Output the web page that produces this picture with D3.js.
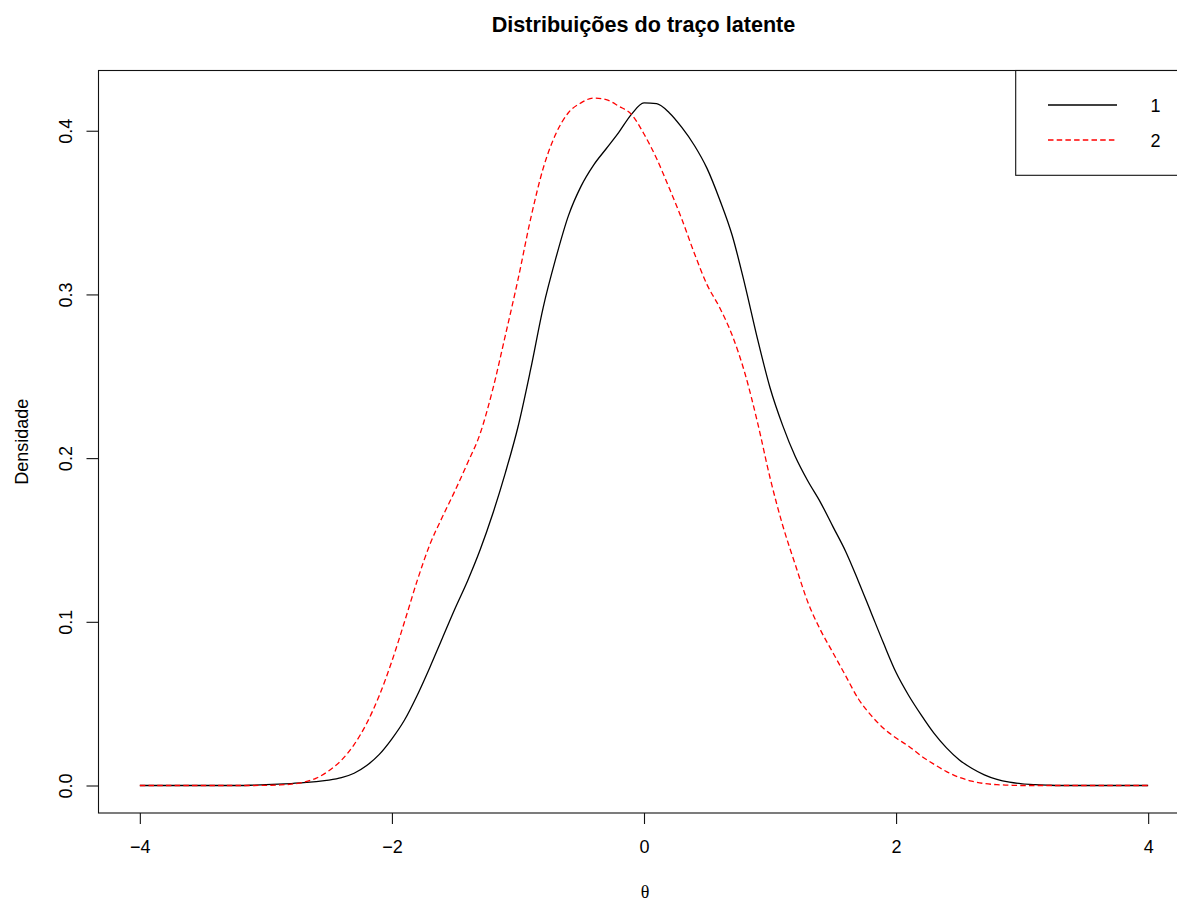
<!DOCTYPE html>
<html>
<head>
<meta charset="utf-8">
<script src="https://cdn.jsdelivr.net/npm/d3@7"></script>
<style>
  html, body { margin: 0; padding: 0; background: #fff; }
  svg { display: block; }
  text { font-family: "Liberation Sans", Arial, sans-serif; fill: #000; }
</style>
</head>
<body>
<svg id="chart" width="1177" height="901"></svg>
<script>
// ---- data ----
const theta = d3.range(-40, 41).map(i => +(i / 10).toFixed(1));
const dens1 = [
  0, 0, 0, 0, 0, 0, 0, 0, 0, 0.0002,            // -4.0 .. -3.1
  0.0005, 0.0008, 0.0012, 0.0017, 0.0024, 0.0033, 0.0048, 0.0075, 0.0122, 0.019, // -3.0 .. -2.1
  0.0285, 0.040, 0.055, 0.072, 0.090, 0.108, 0.125, 0.144, 0.166, 0.191,         // -2.0 .. -1.1
  0.219, 0.254, 0.292, 0.322, 0.348, 0.366, 0.379, 0.389, 0.399, 0.410,          // -1.0 .. -0.1
  0.417,                                                                          // 0.0
  0.4165, 0.411, 0.402, 0.391, 0.377, 0.358, 0.336, 0.306, 0.273, 0.243,         // 0.1 .. 1.0
  0.220, 0.201, 0.186, 0.173, 0.158, 0.143, 0.125, 0.106, 0.087, 0.069,          // 1.1 .. 2.0
  0.055, 0.043, 0.032, 0.023, 0.0158, 0.0105, 0.0065, 0.0037, 0.002, 0.001,      // 2.1 .. 3.0
  0.0005, 0.0002, 0, 0, 0, 0, 0, 0, 0, 0                                         // 3.1 .. 4.0
];
const dens2 = [
  0, 0, 0, 0, 0, 0, 0, 0, 0, 0,                                                  // -4.0 .. -3.1
  0.0001, 0.0003, 0.0008, 0.002, 0.0045, 0.009, 0.0155, 0.025, 0.038, 0.055,     // -3.0 .. -2.1
  0.076, 0.100, 0.125, 0.147, 0.164, 0.180, 0.197, 0.215, 0.242, 0.275,          // -2.0 .. -1.1
  0.309, 0.346, 0.377, 0.398, 0.411, 0.417, 0.420, 0.419, 0.415, 0.410,          // -1.0 .. -0.1
  0.398,                                                                          // 0.0
  0.383, 0.365, 0.346, 0.325, 0.306, 0.292, 0.275, 0.252, 0.222, 0.188,          // 0.1 .. 1.0
  0.159, 0.135, 0.112, 0.095, 0.081, 0.067, 0.053, 0.043, 0.035, 0.029,          // 1.1 .. 2.0
  0.024, 0.018, 0.013, 0.0085, 0.005, 0.0027, 0.0012, 0.0005, 0.0002, 0,         // 2.1 .. 3.0
  0, 0, 0, 0, 0, 0, 0, 0, 0, 0                                                   // 3.1 .. 4.0
];
const xTicks = [-4, -2, 0, 2, 4];
const yTicks = [0, 0.1, 0.2, 0.3, 0.4];
const seriesNames = ["1", "2"];
const seriesColors = ["#000000", "#ff0000"];
const titleText = "Distribuições do traço latente";
const xLabel = "θ";
const yLabel = "Densidade";

// ---- layout ----
const svg = d3.select("#chart");
const L = 98.5, T = 70.5, B = 813, R = 1188.5;
const x = d3.scaleLinear().domain([-4.32, 4.32]).range([L + 1, R]);
const y = d3.scaleLinear().domain([-0.0168, 0.4368]).range([B, T]);

// title
svg.append("text").attr("x", 643.5).attr("y", 31.5)
  .attr("text-anchor", "middle").style("font-size", "21.6px").style("font-weight", "bold")
  .text(titleText);

// curves
const series = [dens1, dens2];
const line = d3.line().x(d => x(d[0])).y(d => y(d[1])).curve(d3.curveMonotoneX);
series.forEach((vals, i) => {
  const pts = theta.map((t, j) => [t, vals[j]]);
  svg.append("path").datum(pts)
    .attr("d", line)
    .attr("fill", "none")
    .attr("stroke", seriesColors[i])
    .attr("stroke-width", 1.3)
    .attr("stroke-dasharray", i === 1 ? "5.5,3.2" : null);
});

// box
svg.append("rect").attr("x", L).attr("y", T).attr("width", R - L).attr("height", B - T)
  .attr("fill", "none").attr("stroke", "#111").attr("stroke-width", 1.1);

// x axis
const xAxis = d3.axisBottom(x).tickValues(xTicks).tickSize(11).tickPadding(5)
  .tickFormat(d => (d < 0 ? "\u2212" + Math.abs(d) : String(d)));
const gx = svg.append("g").attr("transform", `translate(0,${B})`).call(xAxis);
gx.select(".domain").remove();
gx.selectAll("line").attr("stroke", "#111").attr("stroke-width", 1.1);
gx.selectAll("text").attr("dy", null).attr("y", 40.3)
  .style("font-size", "18px").style("font-family", "Liberation Sans, Arial, sans-serif").attr("fill", "#000");

// y axis
const yAxis = d3.axisLeft(y).tickValues(yTicks).tickSize(12).tickFormat(d3.format(".1f"));
const gy = svg.append("g").attr("transform", `translate(${L},0)`).call(yAxis);
gy.select(".domain").remove();
gy.selectAll("line").attr("stroke", "#111").attr("stroke-width", 1.1);
gy.selectAll("text")
  .attr("x", null).attr("dy", null).attr("y", null)
  .attr("text-anchor", "middle")
  .attr("transform", `translate(${72 - L},0) rotate(-90)`)
  .style("font-size", "18px").style("font-family", "Liberation Sans, Arial, sans-serif").attr("fill", "#000");

// axis labels
svg.append("text").attr("x", 645).attr("y", 898)
  .attr("text-anchor", "middle")
  .style("font-family", "Liberation Serif, DejaVu Serif, serif").style("font-size", "18px")
  .text(xLabel);
svg.append("text")
  .attr("transform", `translate(28.3,${(T + B) / 2}) rotate(-90)`)
  .attr("text-anchor", "middle").style("font-size", "18px")
  .text(yLabel);

// legend
const lg = svg.append("g");
lg.append("rect").attr("x", 1015.7).attr("y", T).attr("width", R - 1015.7).attr("height", 175.3 - T)
  .attr("fill", "#fff").attr("stroke", "#111").attr("stroke-width", 1.1);
seriesNames.forEach((name, i) => {
  const ly = 105 + i * 35;
  lg.append("line").attr("x1", 1048).attr("x2", 1117).attr("y1", ly).attr("y2", ly)
    .attr("stroke", seriesColors[i]).attr("stroke-width", 1.3)
    .attr("stroke-dasharray", i === 1 ? "5.5,3.2" : null);
  lg.append("text").attr("x", 1150.5).attr("y", ly + 7.3)
    .style("font-size", "18px").text(name);
});
</script>
</body>
</html>
